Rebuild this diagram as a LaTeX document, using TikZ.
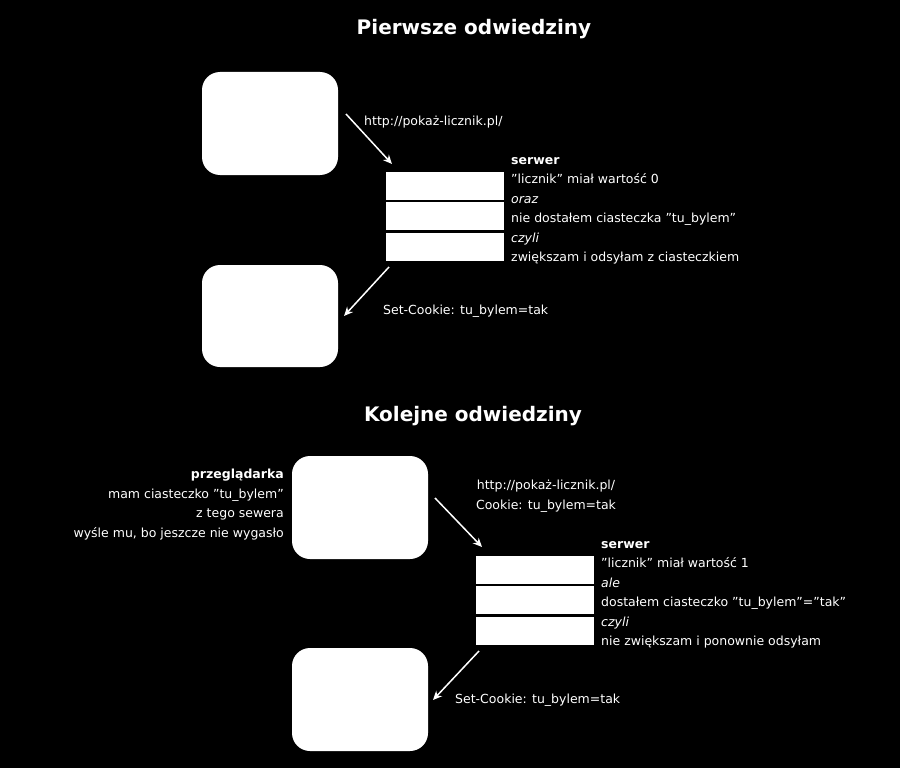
\documentclass[tikz,border=0pt]{standalone}
\usepackage{fontspec}
\setmainfont{DejaVu Sans}
\usetikzlibrary{arrows.meta}

\begin{document}
\begin{tikzpicture}[x=1pt,y=-1pt,
  okno/.style={fill=white,rounded corners=18pt},
  dysk/.style={fill=white},
  strz/.style={draw=white,line width=1.5pt,-{Stealth[length=9pt,width=8pt]}},
  opis/.style={text=white,font=\fontsize{12.5}{19.5}\selectfont,inner sep=0pt},
  tytul/.style={text=white,font=\fontsize{20}{24}\selectfont\bfseries}]
  \fill[black] (0,0) rectangle (900,768);
  % pierwsze odwiedziny
  \node[tytul] (t1) at (474,29) {Pierwsze odwiedziny};
  \fill[okno] (202,72) rectangle (338,175);
  \fill[okno] (202,265) rectangle (338,367);
  \foreach \y in {172,202,233}
    \fill[dysk] (386,\y) rectangle (504,\y+28);
  \coordinate (a1) at (346,114); \coordinate (b1) at (392,164);
  \draw[strz] (a1) -- (b1);
  \coordinate (c1) at (389,267); \coordinate (d1) at (344,316);
  \draw[strz] (c1) -- (d1);
  \node[opis,anchor=west] (u1) at (364,122) {http://pokaż-licznik.pl/};
  \node[opis,anchor=west] (s1) at (383,311) {Set-Cookie: tu\_bylem=tak};
  \node[opis,anchor=north west,align=left] (w1) at (511,157)
    {\textbf{serwer}\\"licznik" miał wartość 0\\\textit{oraz}\\nie dostałem ciasteczka "tu\_bylem"\\\textit{czyli}\\zwiększam i odsyłam z ciasteczkiem};
  % kolejne odwiedziny
  \node[tytul] (t2) at (473,416) {Kolejne odwiedziny};
  \fill[okno] (292,456) rectangle (428,559);
  \fill[okno] (292,648) rectangle (428,751);
  \foreach \y in {556,586,617}
    \fill[dysk] (476,\y) rectangle (594,\y+28);
  \coordinate (a2) at (435,498); \coordinate (b2) at (482,547);
  \draw[strz] (a2) -- (b2);
  \coordinate (c2) at (479,651); \coordinate (d2) at (433,700);
  \draw[strz] (c2) -- (d2);
  \node[opis,align=center] (u2) at (546,496)
    {http://pokaż-licznik.pl/\\Cookie: tu\_bylem=tak};
  \node[opis,anchor=west] (s2) at (455,700) {Set-Cookie: tu\_bylem=tak};
  \node[opis,anchor=north east,align=right] (p2) at (284,469)
    {\textbf{przeglądarka}\\mam ciasteczko "tu\_bylem"\\z tego sewera\\wyśle mu, bo jeszcze nie wygasło};
  \node[opis,anchor=north west,align=left] (w2) at (601,541)
    {\textbf{serwer}\\"licznik" miał wartość 1\\\textit{ale}\\dostałem ciasteczko "tu\_bylem"="tak"\\\textit{czyli}\\nie zwiększam i ponownie odsyłam};
\end{tikzpicture}
\end{document}
